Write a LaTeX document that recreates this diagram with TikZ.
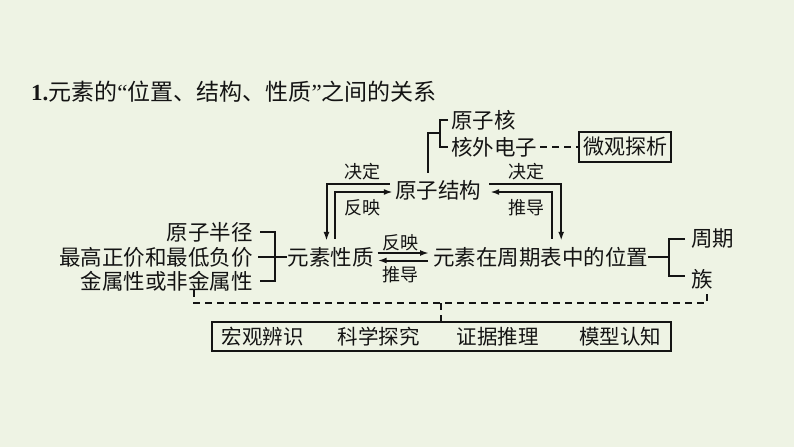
\documentclass[tikz,border=0pt]{standalone}
\usepackage{fontspec}
\setmainfont{Noto Sans CJK SC}
\newfontfamily\latinf{Liberation Serif}
\usetikzlibrary{arrows.meta}
\definecolor{bg}{RGB}{238,243,228}
\definecolor{ink}{RGB}{20,20,20}
\begin{document}
\begin{tikzpicture}[x=1pt,y=-1pt,
  txt/.style={inner sep=0pt, text=ink, font=\fontsize{21.5}{24}\selectfont},
  lbl/.style={inner sep=0pt, text=ink, font=\fontsize{18}{20}\selectfont},
  ttl/.style={inner sep=0pt, text=ink, font=\fontsize{23}{26}\selectfont},
  ln/.style={draw=ink, line width=2pt},
  arr/.style={draw=ink, line width=2pt, -{Latex[length=9pt,width=6pt]}},
  dsh/.style={draw=ink, line width=2pt, dash pattern=on 7pt off 5pt},
  frame/.style={draw=ink, line width=2pt, inner sep=0pt}]
\fill[bg] (0,0) rectangle (794,447);
\useasboundingbox (0,0) rectangle (794,447);

% title
\node[ttl, anchor=west] (title) at (31,92) {{\latinf\bfseries 1.}元素的{\latinf “}位置、结构、性质{\latinf ”}之间的关系};

% top part
\node[txt, anchor=west] (yzh) at (451,120) {原子核};
\node[txt, anchor=west] (hw) at (451,147) {核外电子};
\node[frame, minimum width=92, minimum height=30, font=\fontsize{21}{24}\selectfont, text=ink] (wg) at (625,147) {微观探析};
\node[txt] (jg) at (438,190) {原子结构};
\node[lbl] (jdL) at (362,172) {决定};
\node[lbl] (jdR) at (526,172) {决定};
\node[lbl] (fyL) at (362,208) {反映};
\node[lbl] (tdR) at (526,208) {推导};

% middle row
\node[txt, anchor=east] (bj) at (253,232) {原子半径};
\node[txt, anchor=east] (zg) at (253,257) {最高正价和最低负价};
\node[txt, anchor=east] (js) at (253,281) {金属性或非金属性};
\node[txt] (xz) at (330.5,257) {元素性质};
\node[lbl] (fyM) at (400,243) {反映};
\node[lbl] (tdM) at (400,275) {推导};
\node[txt, anchor=west] (wz) at (433,257) {元素在周期表中的位置};
\node[txt, anchor=west] (zq) at (691,239) {周期};
\node[txt, anchor=west] (zu) at (691,279) {族};

% bottom box
\node[frame, minimum width=459, minimum height=29] (hg) at (441.5,336.5) {};
\node[lbl, font=\fontsize{20.5}{22}\selectfont] (t1) at (262.5,337) {宏观辨识};
\node[lbl, font=\fontsize{20.5}{22}\selectfont] (t2) at (378.5,337) {科学探究};
\node[lbl, font=\fontsize{20.5}{22}\selectfont] (t3) at (497.5,337) {证据推理};
\node[lbl, font=\fontsize{20.5}{22}\selectfont] (t4) at (620,337) {模型认知};

% top bracket
\coordinate (tb) at (440,133);
\coordinate (tx) at (428,133);
\coordinate (jgtop) at ([yshift=7pt]jg.north);
\draw[ln] ([xshift=-3pt]yzh.west) -| (tb) |- ([xshift=-3pt]hw.west);
\draw[ln] (tb) -- (tx) -- (tx |- jgtop);
\draw[dsh] ([xshift=3pt]hw.east) -- (wg.west);

% left arrows
\coordinate (xzA) at ([xshift=-4pt,yshift=6pt]xz.north);
\coordinate (xzB) at ([xshift=4pt,yshift=8pt]xz.north);
\draw[arr] ([xshift=-5pt,yshift=6pt]jg.west) -| (xzA);
\draw[arr] (xzB) |- ([xshift=-2pt,yshift=-2pt]jg.west);

% right arrows
\coordinate (wzA) at ([xshift=20.5pt,yshift=6pt]wz.north);
\coordinate (wzB) at ([xshift=11.5pt,yshift=8pt]wz.north);
\draw[arr] ([xshift=8pt,yshift=6pt]jg.east) -| (wzA);
\draw[arr] (wzB) |- ([xshift=9pt,yshift=-2pt]jg.east);

% middle arrows
\draw[arr] ([xshift=4pt,yshift=4pt]xz.east) -- ([xshift=-4pt,yshift=4pt]wz.west);
\draw[arr] ([xshift=-5pt,yshift=-3.5pt]wz.west) -- ([xshift=4pt,yshift=-3.5pt]xz.east);

% left bracket
\coordinate (lb) at (275,257);
\draw[ln] ([xshift=7pt]bj.east) -| (lb) |- ([xshift=7pt]js.east);
\draw[ln] ([xshift=5pt]zg.east) -- (xz.west);

% right bracket
\coordinate (rb) at (669,257);
\draw[ln] (wz.east) -- (rb);
\draw[ln] ([xshift=-6pt]zq.west) -| (rb) |- ([xshift=-6pt,yshift=3pt]zu.west);

% dashed link to bottom box
\coordinate (dl) at (194,290);
\coordinate (dr) at (707,290);
\coordinate (dm) at (441,303);
\draw[dsh] (dl) |- (dm) -| (dr);
\draw[dsh] (dm) -- (dm |- hg.north);
\end{tikzpicture}
\end{document}
